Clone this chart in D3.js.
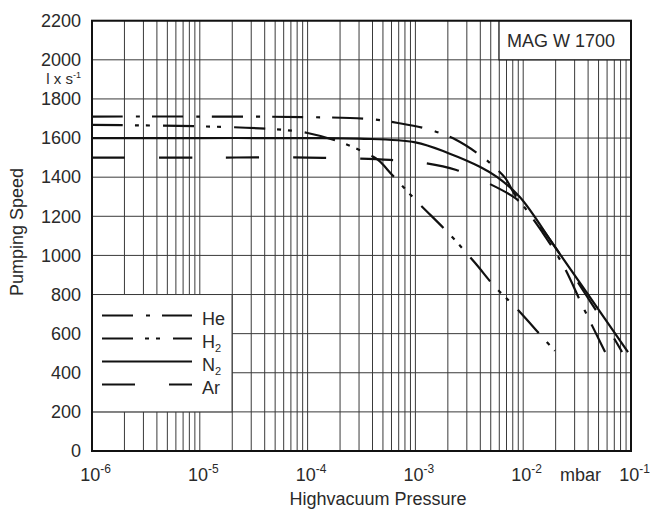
<!DOCTYPE html>
<html>
<head>
<meta charset="utf-8">
<script src="https://cdn.jsdelivr.net/npm/d3@7"></script>
<style>
  html, body { margin: 0; padding: 0; background: #fff; }
  svg { display: block; }
  text { font-family: "Liberation Sans", Arial, Helvetica, sans-serif; fill: #2a2a2a; }
</style>
</head>
<body>
<svg id="chart" width="651" height="514"></svg>
<script>
// ---- Data ----
const decadeTicks = [1e-6, 1e-5, 1e-4, 1e-3, 1e-2, 1e-1];
const decadeExponents = ["-6", "-5", "-4", "-3", "-2", "-1"];
const speedTicks = [0, 200, 400, 600, 800, 1000, 1200, 1400, 1600, 1800, 2000, 2200];

const seriesNames = ["He", "H2", "N2", "Ar"];

const hePressure = [1e-6, 1e-5, 1e-4, 3.6e-4, 6.9e-4, 1.3e-3, 2.4e-3, 4.2e-3, 5.4e-3, 6.8e-3, 8.4e-3, 1e-2, 1.5e-2, 2.34e-2, 3.59e-2, 5.75e-2];
const heSpeed    = [1710, 1710, 1707, 1698, 1677, 1646, 1590, 1503, 1452, 1396, 1309, 1255, 1120, 951, 736, 506];

const h2Pressure = [1e-6, 1e-5, 5e-5, 1e-4, 2e-4, 3.3e-4, 4.5e-4, 6.1e-4, 1e-3, 2.1e-3, 3.57e-3, 5.47e-3, 8.4e-3, 1.59e-2, 1.97e-2];
const h2Speed    = [1667, 1660, 1645, 1626, 1580, 1529, 1488, 1411, 1284, 1105, 962, 839, 737, 568, 512];

const n2Pressure = [1e-6, 1e-5, 1e-4, 3e-4, 1e-3, 2e-3, 4e-3, 5.7e-3, 9.3e-3, 2.06e-2, 9.38e-2];
const n2Speed    = [1600, 1600, 1600, 1597, 1578, 1524, 1452, 1401, 1299, 1028, 506];

const arPressure = [1e-6, 1e-5, 1e-4, 5.8e-4, 1.23e-3, 2.4e-3, 4.7e-3, 8.4e-3, 1e-2, 1.5e-2, 2.06e-2, 4.1e-2, 6.67e-2, 8.26e-2];
const arSpeed    = [1500, 1500, 1500, 1488, 1472, 1437, 1370, 1294, 1255, 1135, 1028, 772, 593, 506];

const dashPatterns = { He: "31,13,4,12", H2: "31,12,4,7,4,13", N2: null, Ar: "33,34" };

// ---- Layout ----
const svg = d3.select("#chart");
const plotL = 92, plotR = 631, plotT = 20.7, plotB = 451;

const x = d3.scaleLog().domain([1e-6, 1e-1]).range([plotL, plotR]);
const y = d3.scaleLinear().domain([0, 2200]).range([plotB, plotT]);

// grid
const grid = svg.append("g");
grid.selectAll("line.v").data(x.ticks()).join("line").attr("class", "v")
  .attr("x1", d => x(d)).attr("x2", d => x(d))
  .attr("y1", plotT).attr("y2", plotB)
  .attr("stroke", "#3a3a3a").attr("stroke-width", 1);
grid.selectAll("line.h").data(speedTicks).join("line").attr("class", "h")
  .attr("x1", plotL).attr("x2", plotR)
  .attr("y1", d => y(d)).attr("y2", d => y(d))
  .attr("stroke", "#3a3a3a").attr("stroke-width", 1);

// curves
const line = d3.line().x(d => x(d[0])).y(d => y(d[1])).curve(d3.curveCatmullRom.alpha(0.5));
const series = [
  { name: "He", p: hePressure, s: heSpeed },
  { name: "H2", p: h2Pressure, s: h2Speed },
  { name: "N2", p: n2Pressure, s: n2Speed },
  { name: "Ar", p: arPressure, s: arSpeed }
];
svg.append("clipPath").attr("id", "clip").append("rect")
  .attr("x", plotL).attr("y", plotT).attr("width", plotR - plotL).attr("height", plotB - plotT);
const curves = svg.append("g").attr("clip-path", "url(#clip)");
series.forEach(sr => {
  curves.append("path")
    .datum(sr.p.map((p, i) => [p, sr.s[i]]))
    .attr("d", line)
    .attr("fill", "none")
    .attr("stroke", "#111")
    .attr("stroke-width", 2.2)
    .attr("stroke-dasharray", dashPatterns[sr.name]);
});

// model box
svg.append("rect").attr("x", 499).attr("y", plotT).attr("width", plotR - 499).attr("height", y(2000) - plotT)
  .attr("fill", "#fff").attr("stroke", "#222").attr("stroke-width", 1.3);
svg.append("text").attr("x", 507).attr("y", 47).attr("font-size", 18).text("MAG W 1700");

// legend
const lg = svg.append("g");
lg.append("rect").attr("x", plotL).attr("y", y(800)).attr("width", 232 - plotL).attr("height", y(200) - y(800))
  .attr("fill", "#fff").attr("stroke", "#3a3a3a").attr("stroke-width", 1);
const legendLabels = [["He", ""], ["H", "2"], ["N", "2"], ["Ar", ""]];
seriesNames.forEach((n, i) => {
  const ly = 315.5 + i * 23;
  lg.append("line").attr("x1", 102).attr("x2", 192).attr("y1", ly).attr("y2", ly)
    .attr("stroke", "#111").attr("stroke-width", 2.2)
    .attr("stroke-dasharray", dashPatterns[n]);
  const t = lg.append("text").attr("x", 202).attr("y", ly + 9.5).attr("font-size", 18);
  t.append("tspan").text(legendLabels[i][0]);
  if (legendLabels[i][1]) t.append("tspan").attr("font-size", 11).attr("dy", 4).text(legendLabels[i][1]);
});

// border
svg.append("rect").attr("x", plotL).attr("y", plotT).attr("width", plotR - plotL).attr("height", plotB - plotT)
  .attr("fill", "none").attr("stroke", "#111").attr("stroke-width", 2);

// y axis labels
const yAxis = svg.append("g").attr("transform", `translate(${plotL},0)`)
  .call(d3.axisLeft(y).tickValues(speedTicks).tickFormat(d3.format("d")).tickSize(0).tickPadding(11));
yAxis.select(".domain").remove();
yAxis.attr("font-family", null).attr("font-size", null);
yAxis.selectAll("text").attr("font-size", 18).attr("fill", "#2a2a2a");

// x axis labels
const xAxis = svg.append("g").attr("transform", `translate(0,${plotB})`)
  .call(d3.axisBottom(x).tickValues(decadeTicks).tickSize(0).tickFormat(() => ""));
xAxis.select(".domain").remove();
xAxis.attr("font-family", null).attr("font-size", null);
xAxis.selectAll("text").each(function(d, i) {
  const t = d3.select(this).attr("y", 30).attr("dy", null).attr("x", 3)
    .attr("font-size", 18).attr("fill", "#2a2a2a");
  t.append("tspan").text("10");
  t.append("tspan").attr("font-size", 12).attr("dy", -8).text(decadeExponents[i]);
});

// unit labels
svg.append("text").attr("x", 560).attr("y", 481).attr("font-size", 18).text("mbar");
const u = svg.append("text").attr("x", 81).attr("y", 84).attr("text-anchor", "end").attr("font-size", 15);
u.append("tspan").text("l x s");
u.append("tspan").attr("font-size", 9).attr("dy", -6).text("-1");

// axis titles
svg.append("text").attr("x", 378).attr("y", 505).attr("text-anchor", "middle").attr("font-size", 18)
  .text("Highvacuum Pressure");
svg.append("text").attr("transform", "translate(23,232) rotate(-90)").attr("text-anchor", "middle")
  .attr("font-size", 18).text("Pumping Speed");
</script>
</body>
</html>
